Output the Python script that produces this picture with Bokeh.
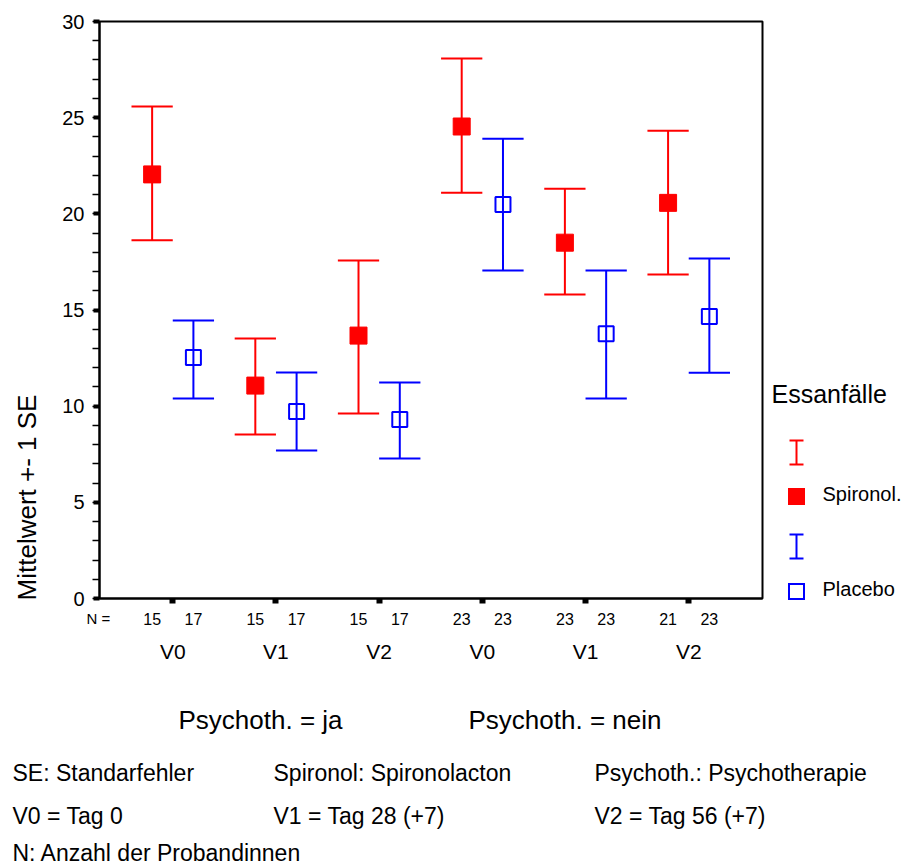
import numpy as np
from bokeh.plotting import figure
from bokeh.models import ColumnDataSource, FixedTicker, Range1d
from bokeh.core.properties import value
from bokeh.embed import file_html
from bokeh.resources import INLINE

# ---------------- data ----------------
visits = ["V0", "V1", "V2", "V0", "V1", "V2"]
psychoth_groups = ["Psychoth. = ja", "Psychoth. = nein"]
n_spironol = [15, 15, 15, 23, 23, 21]
n_placebo = [17, 17, 17, 23, 23, 23]

spironol_mean = [22.05, 11.07, 13.67, 24.54, 18.50, 20.57]
spironol_low = [18.63, 8.53, 9.62, 21.10, 15.80, 16.85]
spironol_high = [25.58, 13.52, 17.57, 28.07, 21.30, 24.32]

placebo_mean = [12.53, 9.72, 9.31, 20.49, 13.77, 14.66]
placebo_low = [10.40, 7.70, 7.28, 17.05, 10.40, 11.74]
placebo_high = [14.45, 11.75, 11.23, 23.90, 17.05, 17.68]

y_ticks = [0, 5, 10, 15, 20, 25, 30]
footnotes = [
    ["SE: Standarfehler", "Spironol: Spironolacton", "Psychoth.: Psychotherapie"],
    ["V0 = Tag 0", "V1 = Tag 28 (+7)", "V2 = Tag 56 (+7)"],
    ["N: Anzahl der Probandinnen"],
]

RED = "#ff0000"
BLUE = "#0000ff"
FONT = "Liberation Sans"

# ---------------- layout helpers (canvas pixels -> data) ----------------
W, H = 905, 864
FL, FR, FT, FB = 99, 762, 21, 598
XR = (0.29, 6.715)
YR = (0, 30)
DX = (XR[1] - XR[0]) / (FR - FL)   # data units per pixel, x
DY = (YR[1] - YR[0]) / (FB - FT)   # data units per pixel, y


def xd(px):
    return XR[0] + (px - FL) * DX


def yd(py):
    return YR[0] + (FB - py) * DY


p = figure(width=W, height=H, x_range=Range1d(*XR), y_range=Range1d(*YR),
           output_backend="svg", toolbar_location=None,
           min_border_left=FL, min_border_right=W - FR,
           min_border_top=FT, min_border_bottom=H - FB)
p.title.visible = False
p.xgrid.visible = False
p.ygrid.visible = False
p.outline_line_color = "black"
p.outline_line_width = 2
p.background_fill_color = "white"
p.border_fill_color = "white"

# y axis
p.yaxis.ticker = FixedTicker(ticks=y_ticks, minor_ticks=list(range(0, 31)))
p.yaxis.axis_line_width = 2
p.yaxis.major_tick_in = 0
p.yaxis.major_tick_out = 6
p.yaxis.major_tick_line_width = 4
p.yaxis.minor_tick_in = 0
p.yaxis.minor_tick_out = 7
p.yaxis.minor_tick_line_width = 1.5
p.yaxis.major_label_standoff = 8
p.yaxis.major_label_text_font = FONT
p.yaxis.major_label_text_font_size = "20px"
p.yaxis.major_label_text_color = "black"

# x axis: tick marks only
xpos = np.arange(1, len(visits) + 1)
p.xaxis.ticker = FixedTicker(ticks=list(xpos), minor_ticks=[])
p.xaxis.axis_line_width = 2
p.xaxis.major_tick_in = 0
p.xaxis.major_tick_out = 5
p.xaxis.major_tick_line_width = 6
p.xaxis.major_label_overrides = {int(v): "" for v in xpos}

off = 0.2
cap = 0.2
xr = xpos - off
xb = xpos + off

src_r = ColumnDataSource(dict(x=xr, m=spironol_mean, lo=spironol_low, hi=spironol_high,
                              cl=xr - cap, cr=xr + cap))
src_b = ColumnDataSource(dict(x=xb, m=placebo_mean, lo=placebo_low, hi=placebo_high,
                              cl=xb - cap, cr=xb + cap))

for src, col in ((src_r, RED), (src_b, BLUE)):
    p.segment(x0="x", y0="lo", x1="x", y1="hi", source=src, line_color=col, line_width=2)
    p.segment(x0="cl", y0="hi", x1="cr", y1="hi", source=src, line_color=col, line_width=2)
    p.segment(x0="cl", y0="lo", x1="cr", y1="lo", source=src, line_color=col, line_width=2)

p.scatter(x="x", y="m", source=src_r, marker="square", size=17,
          fill_color=RED, line_color=RED, line_width=1)
p.scatter(x="x", y="m", source=src_b, marker="square", size=15,
          fill_color=None, line_color=BLUE, line_width=2)

# N labels under the axis (text glyphs at overlay level are not clipped)
n_src = ColumnDataSource(dict(
    x=list(xr) + list(xb),
    y=[yd(618)] * (2 * len(visits)),
    t=[str(v) for v in n_spironol] + [str(v) for v in n_placebo]))
p.text(x="x", y="y", text="t", source=n_src, text_align="center",
       text_baseline="middle", text_font=value(FONT), text_font_size="16px",
       text_color="black", level="overlay")

# visit labels
v_src = ColumnDataSource(dict(x=list(xpos), y=[yd(651)] * len(visits), t=visits))
p.text(x="x", y="y", text="t", source=v_src, text_align="center",
       text_baseline="middle", text_font=value(FONT), text_font_size="21px",
       text_color="black", level="overlay")


def label(px, py, txt, size, align="left", baseline="middle", angle=0.0):
    p.text(x=[xd(px)], y=[yd(py)], text=[txt], text_align=align,
           text_baseline=baseline, text_font=value(FONT),
           text_font_size=size, text_color="black",
           angle=angle, level="overlay")


label(98, 618, "N =", "15px", align="center")

# psychotherapy group labels
for px, txt in zip([178, 468], psychoth_groups):
    label(px, 719, txt, "26px")

# y axis title
label(26, 497, "Mittelwert +- 1 SE", "26px", align="center", angle=np.pi / 2)

# footnotes
col_x = [12, 273, 594]
row_y = [772, 815, 852]
for row, by in zip(footnotes, row_y):
    for txt, cx in zip(row, col_x):
        label(cx, by, txt, "23px")

# legend (outside the frame)
label(771, 393, "Essanfälle", "25px")
label(822, 493, "Spironol.", "20px")
label(822, 588, "Placebo", "20px")

lx = xd(796)
for (y0, y1, col) in ((440, 464, RED), (534, 558, BLUE)):
    p.segment(x0=[lx, lx - 7 * DX, lx - 7 * DX], y0=[yd(y0), yd(y0), yd(y1)],
              x1=[lx, lx + 7 * DX, lx + 7 * DX], y1=[yd(y1), yd(y0), yd(y1)],
              line_color=col, line_width=2, level="overlay")
# filled red square (thick segment)
p.segment(x0=[lx - 8.5 * DX], y0=[yd(496)], x1=[lx + 8.5 * DX], y1=[yd(496)],
          line_color=RED, line_width=17, line_cap="butt", level="overlay")
# hollow blue square
bx0, bx1 = lx - 7.5 * DX, lx + 7.5 * DX
by0, by1 = yd(591 + 7.5), yd(591 - 7.5)
p.segment(x0=[bx0, bx0, bx0, bx1], y0=[by0, by1, by0, by0],
          x1=[bx1, bx1, bx0, bx1], y1=[by0, by1, by1, by1],
          line_color=BLUE, line_width=2, line_cap="square", level="overlay")

open("out.html", "w").write(file_html(p, INLINE))
